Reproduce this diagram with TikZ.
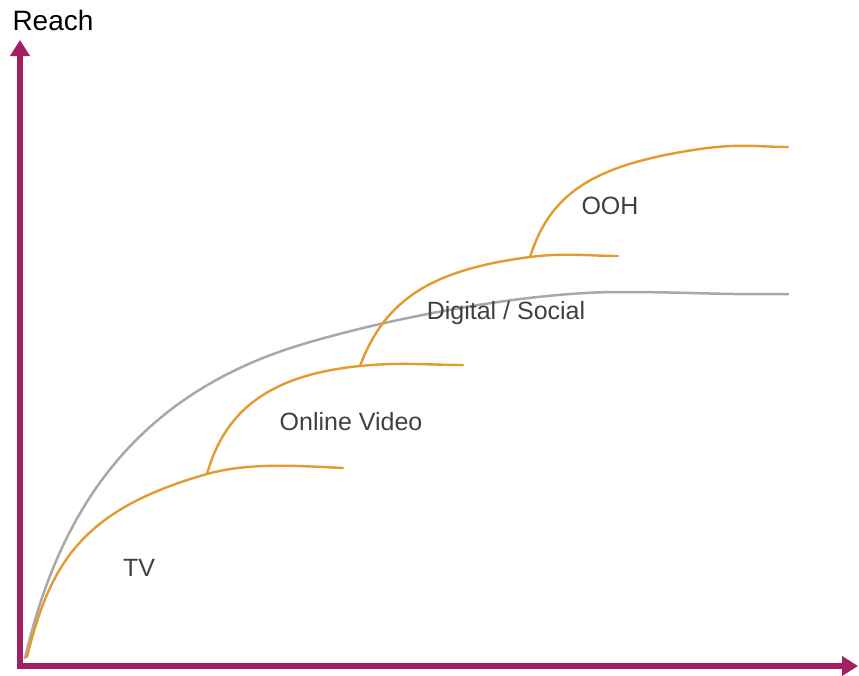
\documentclass[tikz,border=0pt]{standalone}
\usepackage{fontspec}
\setmainfont{Liberation Sans}
\usepackage{xcolor}
\usetikzlibrary{arrows.meta, positioning}

\definecolor{axisplum}{HTML}{A21F62}
\definecolor{curveorange}{HTML}{E39A2E}
\definecolor{curvegrey}{HTML}{A8A8A8}
\definecolor{labelgrey}{HTML}{404040}

\tikzset{
  axis/.style={draw=axisplum, line width=6, -{Triangle[length=16, width=19]}},
  channel/.style={draw=curveorange, line width=2.4, line cap=round},
  total/.style={draw=curvegrey, line width=2.5, line cap=round},
  tag/.style={text=labelgrey, font=\fontsize{25}{30}\selectfont, inner sep=0pt}
}

\begin{document}
\begin{tikzpicture}[x=1pt, y=-1pt]
      \useasboundingbox (0,0) rectangle (859,675);

      % axes
      \coordinate (origin) at (20,666);
      \coordinate (ytop) at (20,40);
      \coordinate (xend) at (858,666);
      \draw[axis] ([yshift=3]origin) -- (ytop);
      \draw[axis] ([xshift=-3]origin) -- (xend);
      \node[font=\fontsize{28}{32}\selectfont, inner sep=0pt] at (53,20) (reach) {Reach};

      % branch points
      \coordinate (tvfork) at (207,474);
      \coordinate (videofork) at (360,366);
      \coordinate (socialfork) at (530,257);

      % overall reach
      \draw[total] (25,658) .. controls (55,530) and (120,400) .. (300,345)
        .. controls (380,320.6) and (520,292) .. (620,292)
        .. controls (690,292) and (720,295) .. (788,294);

      % channels
      \draw[channel] (27,657) .. controls (50,565) and (80,510) .. (tvfork)
        .. controls (250,462) and (300,466) .. (343,468);
      \draw[channel] (tvfork) .. controls (225,410) and (270,375) .. (videofork)
        .. controls (400,362) and (430,365) .. (463,365);
      \draw[channel] (videofork) .. controls (385,300) and (430,270) .. (socialfork)
        .. controls (565,252.5) and (590,256) .. (618,256);
      \draw[channel] (socialfork) .. controls (550,195) and (590,165) .. (700,149)
        .. controls (740,143.2) and (760,147) .. (788,147);

      % labels
      \node[tag] at (139,568) (tv) {TV};
      \node[tag] at (351,422) (video) {Online Video};
      \node[tag] at (506,313) (social) {Digital / Social};
      \node[tag] at (610,206) (ooh) {OOH};
    \end{tikzpicture}
\end{document}
